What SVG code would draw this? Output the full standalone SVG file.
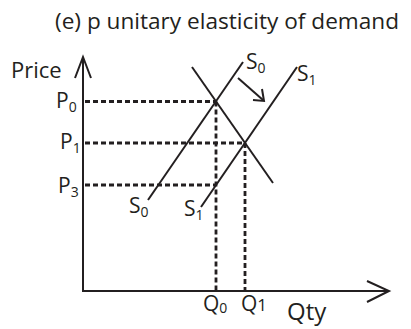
<svg xmlns="http://www.w3.org/2000/svg" width="411" height="329" viewBox="0 0 411 329">
<style>
.t{font-family:"Open Sans","Noto Sans",sans-serif;font-size:21px;fill:#231f20}
.sub{font-size:14px}
.ln{stroke:#231f20;stroke-width:2;fill:none}
.ax{stroke:#231f20;stroke-width:2;fill:none}
.dash{stroke:#231f20;stroke-width:2.8;fill:none;stroke-dasharray:5 3}
</style>
<rect width="411" height="329" fill="#fff"/>
<g id="title"><text class="t" x="55" y="29" style="font-size:22.6px">(e) p unitary elasticity of demand</text></g>
<g id="axes">
<line class="ax" x1="83" y1="291" x2="83" y2="57"/>
<polyline class="ax" points="75,78 83,57 91,78"/>
<line class="ax" x1="82" y1="291" x2="389" y2="291"/>
<polyline class="ax" points="367,281 389,291 367,302"/>
<text class="t" x="11" y="78" style="font-size:22px">Price</text>
<text class="t" x="287" y="320" style="font-size:24px">Qty</text>
</g>
<g id="connectors">
<line class="dash" x1="85" y1="101.5" x2="216" y2="101.5"/>
<line class="dash" x1="216" y1="101.5" x2="216" y2="290"/>
<line class="dash" x1="85" y1="143" x2="245" y2="143"/>
<line class="dash" x1="245" y1="143" x2="245" y2="290"/>
<line class="dash" x1="85" y1="185" x2="216" y2="185"/>
</g>
<g id="demand"><line class="ln" x1="192" y1="67" x2="273" y2="183"/></g>
<g id="s0">
<line class="ln" x1="148" y1="200" x2="243" y2="62"/>
<text class="t" x="246" y="69">S<tspan class="sub" dy="4">0</tspan></text>
<text class="t" x="129" y="213">S<tspan class="sub" dy="4">0</tspan></text>
</g>
<g id="s1">
<line class="ln" x1="201" y1="207" x2="297" y2="67"/>
<text class="t" x="297" y="81">S<tspan class="sub" dy="4">1</tspan></text>
<text class="t" x="184" y="216">S<tspan class="sub" dy="4">1</tspan></text>
</g>
<g id="shift">
<line class="ln" x1="238" y1="78" x2="263" y2="100"/>
<polyline class="ln" points="262,89 264,101 253,100"/>
</g>
<g id="prices">
<text class="t" x="56" y="108">P<tspan class="sub" dy="4">0</tspan></text>
<text class="t" x="60" y="149">P<tspan class="sub" dy="4">1</tspan></text>
<text class="t" x="58" y="193">P<tspan class="sub" dy="4">3</tspan></text>
</g>
<g id="quantities">
<text class="t" x="203" y="311">Q<tspan class="sub" dy="2">0</tspan></text>
<text class="t" x="241" y="311">Q<tspan style="font-size:17px">1</tspan></text>
</g>
</svg>
